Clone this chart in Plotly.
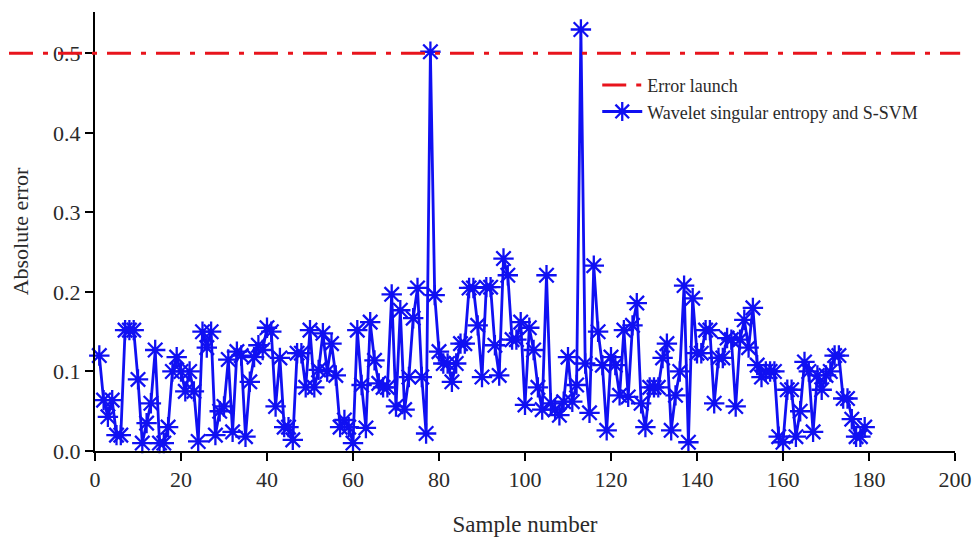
import plotly.graph_objects as go

samples = list(range(1, 180))
abs_error = [
    0.120, 0.064, 0.043, 0.064, 0.020, 0.020, 0.152, 0.152, 0.152, 0.090,
    0.010, 0.035, 0.060, 0.127, 0.010, 0.010, 0.030, 0.100, 0.118, 0.100,
    0.075, 0.100, 0.075, 0.012, 0.150, 0.130, 0.150, 0.020, 0.050, 0.056,
    0.115, 0.024, 0.125, 0.120, 0.018, 0.087, 0.118, 0.133, 0.127, 0.155,
    0.150, 0.056, 0.117, 0.030, 0.030, 0.014, 0.123, 0.123, 0.080, 0.152,
    0.080, 0.102, 0.148, 0.100, 0.135, 0.095, 0.030, 0.039, 0.030, 0.010,
    0.152, 0.083, 0.029, 0.162, 0.114, 0.085, 0.080, 0.080, 0.197, 0.056,
    0.177, 0.052, 0.093, 0.167, 0.205, 0.093, 0.022, 0.502, 0.196, 0.125,
    0.110, 0.110, 0.087, 0.110, 0.135, 0.135, 0.205, 0.205, 0.158, 0.093,
    0.206, 0.206, 0.133, 0.095, 0.242, 0.221, 0.140, 0.140, 0.162, 0.058,
    0.155, 0.127, 0.080, 0.052, 0.221, 0.060, 0.052, 0.045, 0.062, 0.118,
    0.062, 0.083, 0.530, 0.110, 0.048, 0.233, 0.150, 0.108, 0.026, 0.118,
    0.108, 0.070, 0.152, 0.068, 0.158, 0.186, 0.060, 0.030, 0.080, 0.080,
    0.080, 0.117, 0.135, 0.026, 0.070, 0.100, 0.208, 0.011, 0.192, 0.123,
    0.123, 0.152, 0.152, 0.060, 0.117, 0.117, 0.142, 0.140, 0.056, 0.140,
    0.165, 0.130, 0.180, 0.108, 0.093, 0.100, 0.100, 0.100, 0.018, 0.011,
    0.077, 0.077, 0.018, 0.050, 0.112, 0.100, 0.024, 0.095, 0.077, 0.095,
    0.100, 0.120, 0.120, 0.066, 0.066, 0.040, 0.018, 0.018, 0.030,
]
threshold = 0.5
x_ticks = [0, 20, 40, 60, 80, 100, 120, 140, 160, 180, 200]
y_ticks = [0.0, 0.1, 0.2, 0.3, 0.4, 0.5]

RED = "#e8141c"
BLUE = "#1010f2"
DASH = "24px,10px,5px,10px"
FONT = "Liberation Serif"
TXT = "#2a2a2a"

fig = go.Figure()

# legend entry for the threshold line (line itself drawn as a shape)
fig.add_trace(go.Scatter(
    x=[None], y=[None], mode="lines", name="Error launch",
    line=dict(color=RED, width=3, dash=DASH),
))
fig.add_trace(go.Scatter(
    x=samples, y=abs_error, mode="lines+markers",
    name="Wavelet singular entropy and S-SVM",
    line=dict(color=BLUE, width=2.8),
    marker=dict(symbol="asterisk-open", size=17, color=BLUE,
                line=dict(color=BLUE, width=2.3)),
    cliponaxis=False,
))

fig.add_shape(type="line", xref="paper", yref="y",
              x0=-0.1, x1=1.006, y0=threshold, y1=threshold,
              line=dict(color=RED, width=3, dash=DASH), layer="above")

fig.update_layout(
    width=975, height=537,
    margin=dict(l=95, r=20, t=12, b=86, autoexpand=False),
    paper_bgcolor="white", plot_bgcolor="white",
    font=dict(family=FONT, size=22, color=TXT),
    showlegend=True,
    legend=dict(x=0.584, y=0.875, xanchor="left", yanchor="top",
                bgcolor="rgba(0,0,0,0)", font=dict(family=FONT, size=18, color=TXT),
                tracegroupgap=0, itemwidth=40),
    xaxis=dict(
        range=[0, 200], tickvals=x_ticks, ticktext=[str(v) for v in x_ticks],
        showgrid=False, zeroline=False, showline=True, linecolor="black", linewidth=2,
        ticks="outside", ticklen=8, tickwidth=2, tickcolor="black",
        tickfont=dict(size=22), ticklabeloverflow="allow", automargin=False,
        title=dict(text="Sample number", standoff=25, font=dict(size=23)),
    ),
    yaxis=dict(
        range=[0, 0.552], tickvals=y_ticks, ticktext=["%.1f" % v for v in y_ticks],
        showgrid=False, zeroline=False, showline=True, linecolor="black", linewidth=2,
        ticks="outside", ticklen=8, tickwidth=2, tickcolor="black",
        tickfont=dict(size=22), automargin=False,
        title=dict(text="Absolute error", standoff=18, font=dict(size=22)),
    ),
)

# remove the browser's default 8px body margin so the figure fills the window
fig.write_html("out.html", config={"displayModeBar": False},
               post_script="document.body.style.margin='0';")
